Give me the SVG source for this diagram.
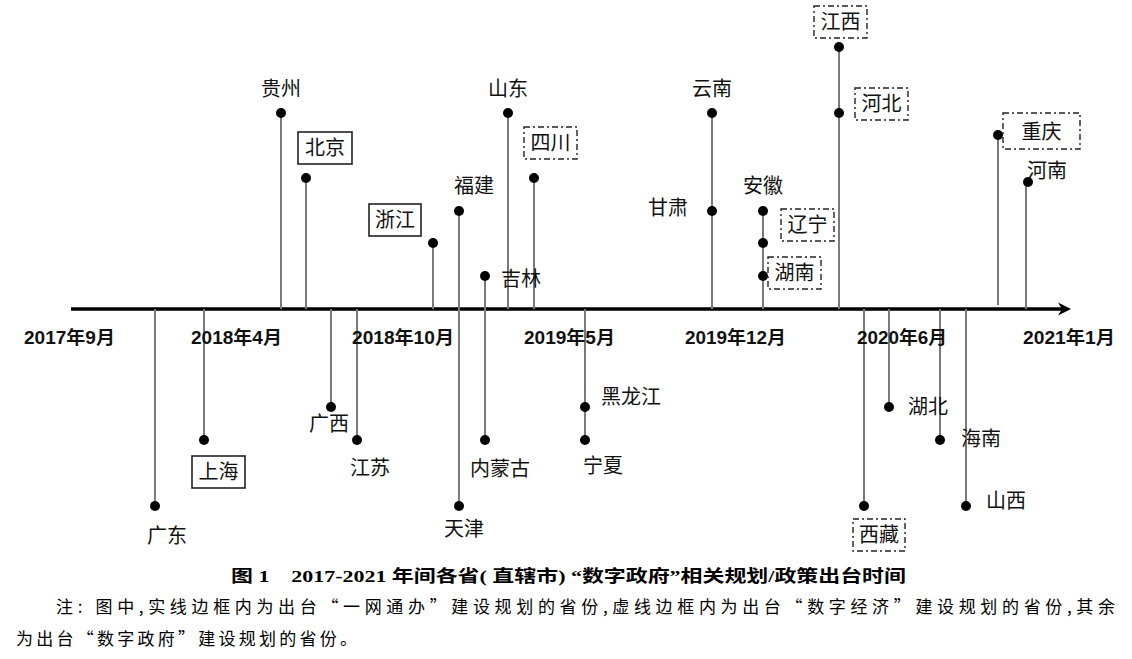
<svg xmlns="http://www.w3.org/2000/svg" width="1132" height="659" viewBox="0 0 1132 659">
<style>
.lbl{font-family:"Noto Sans CJK SC","Liberation Sans",sans-serif;font-size:20px;fill:#111}
.yr{font-family:"Liberation Sans","Noto Sans CJK SC",sans-serif;font-size:18px;font-weight:bold;fill:#111}
.stem{stroke:#7a7a7a;stroke-width:2;fill:none}
.solid{fill:#fff;stroke:#222;stroke-width:1.6}
.dash{fill:#fff;stroke:#222;stroke-width:1.4;stroke-dasharray:6 3 2 3}
.cap{font-family:"Liberation Serif","Noto Sans CJK SC",serif;font-size:17px;font-weight:bold;fill:#000}
.note{font-family:"Noto Sans CJK SC","Liberation Serif",sans-serif;font-size:17px;fill:#000}
</style>
<defs>
<circle id="dot" r="5" fill="#000"/>
</defs>
<rect width="1132" height="659" fill="#fff"/>
<g id="connectors">
<line x1="71" y1="309" x2="1064" y2="309" stroke="#000" stroke-width="3.5"/>
<path d="M1071,309 L1058,302.5 L1062,309 L1058,315.5 Z" fill="#000"/>
<!-- above -->
<line class="stem" x1="281" y1="113" x2="281" y2="309"/>
<line class="stem" x1="306" y1="178" x2="306" y2="309"/>
<line class="stem" x1="433" y1="243" x2="433" y2="309"/>
<line class="stem" x1="459" y1="211" x2="459" y2="506"/>
<line class="stem" x1="485" y1="276" x2="485" y2="440"/>
<line class="stem" x1="508" y1="113" x2="508" y2="309"/>
<line class="stem" x1="534" y1="178" x2="534" y2="309"/>
<line class="stem" x1="712" y1="113" x2="712" y2="309"/>
<line class="stem" x1="763" y1="211" x2="763" y2="309"/>
<line class="stem" x1="839" y1="47" x2="839" y2="309"/>
<line class="stem" x1="998" y1="135" x2="998" y2="305"/>
<line class="stem" x1="1026" y1="182" x2="1026" y2="309"/>
<!-- below -->
<line class="stem" x1="155" y1="309" x2="155" y2="506"/>
<line class="stem" x1="204" y1="309" x2="204" y2="440"/>
<line class="stem" x1="331" y1="309" x2="331" y2="407"/>
<line class="stem" x1="357" y1="309" x2="357" y2="440"/>
<line class="stem" x1="585" y1="309" x2="585" y2="440"/>
<line class="stem" x1="864" y1="309" x2="864" y2="506"/>
<line class="stem" x1="889" y1="309" x2="889" y2="407"/>
<line class="stem" x1="940" y1="309" x2="940" y2="440"/>
<line class="stem" x1="966" y1="309" x2="966" y2="506"/>
</g>
<g id="years">
<text class="yr" x="24" y="344" textLength="91" lengthAdjust="spacingAndGlyphs">2017年9月</text>
<text class="yr" x="191" y="344" textLength="91" lengthAdjust="spacingAndGlyphs">2018年4月</text>
<text class="yr" x="352" y="344" textLength="102" lengthAdjust="spacingAndGlyphs">2018年10月</text>
<text class="yr" x="524" y="344" textLength="91" lengthAdjust="spacingAndGlyphs">2019年5月</text>
<text class="yr" x="685" y="344" textLength="101" lengthAdjust="spacingAndGlyphs">2019年12月</text>
<text class="yr" x="857" y="344" textLength="90" lengthAdjust="spacingAndGlyphs">2020年6月</text>
<text class="yr" x="1023" y="344" textLength="92" lengthAdjust="spacingAndGlyphs">2021年1月</text>
</g>
<g id="guizhou"><use href="#dot" x="281" y="113"/><text class="lbl" x="281" y="96" text-anchor="middle">贵州</text></g>
<g id="beijing"><use href="#dot" x="306" y="178"/><rect class="solid" x="298" y="132" width="54" height="32"/><text class="lbl" x="325" y="155" text-anchor="middle">北京</text></g>
<g id="zhejiang"><use href="#dot" x="433" y="243"/><rect class="solid" x="369" y="204" width="52" height="32"/><text class="lbl" x="395" y="227" text-anchor="middle">浙江</text></g>
<g id="fujian"><use href="#dot" x="459" y="211"/><text class="lbl" x="474" y="193" text-anchor="middle">福建</text></g>
<g id="jilin"><use href="#dot" x="485" y="276"/><text class="lbl" x="501" y="286">吉林</text></g>
<g id="shandong"><use href="#dot" x="508" y="113"/><text class="lbl" x="508" y="96" text-anchor="middle">山东</text></g>
<g id="sichuan"><use href="#dot" x="534" y="178"/><rect class="dash" x="524" y="127" width="53" height="32"/><text class="lbl" x="550.5" y="150" text-anchor="middle">四川</text></g>
<g id="yunnan"><use href="#dot" x="712" y="113"/><text class="lbl" x="712" y="96" text-anchor="middle">云南</text></g>
<g id="gansu"><use href="#dot" x="712" y="211"/><text class="lbl" x="648" y="215">甘肃</text></g>
<g id="anhui"><use href="#dot" x="763" y="211"/><text class="lbl" x="763" y="193" text-anchor="middle">安徽</text></g>
<g id="liaoning"><use href="#dot" x="763" y="243"/><rect class="dash" x="781" y="209" width="53" height="32"/><text class="lbl" x="807.5" y="232" text-anchor="middle">辽宁</text></g>
<g id="hunan"><use href="#dot" x="763" y="276"/><rect class="dash" x="768" y="257" width="53" height="32"/><text class="lbl" x="794.5" y="280" text-anchor="middle">湖南</text></g>
<g id="jiangxi"><use href="#dot" x="839" y="47"/><rect class="dash" x="814" y="6" width="53" height="32"/><text class="lbl" x="840.5" y="29" text-anchor="middle">江西</text></g>
<g id="hebei"><use href="#dot" x="839" y="113"/><rect class="dash" x="855" y="88" width="53" height="32"/><text class="lbl" x="881.5" y="111" text-anchor="middle">河北</text></g>
<g id="chongqing"><use href="#dot" x="998" y="135"/><rect class="dash" x="1003" y="113" width="77" height="36"/><text class="lbl" x="1041.5" y="139" text-anchor="middle">重庆</text></g>
<g id="henan"><use href="#dot" x="1028" y="182"/><text class="lbl" x="1027" y="178">河南</text></g>
<g id="guangdong"><use href="#dot" x="155" y="506"/><text class="lbl" x="167" y="543" text-anchor="middle">广东</text></g>
<g id="shanghai"><use href="#dot" x="204" y="440"/><rect class="solid" x="192" y="456" width="53" height="32"/><text class="lbl" x="218.5" y="479" text-anchor="middle">上海</text></g>
<g id="guangxi"><use href="#dot" x="331" y="407"/><text class="lbl" x="329" y="431" text-anchor="middle">广西</text></g>
<g id="jiangsu"><use href="#dot" x="357" y="440"/><text class="lbl" x="370" y="475" text-anchor="middle">江苏</text></g>
<g id="tianjin"><use href="#dot" x="459" y="506"/><text class="lbl" x="464" y="536" text-anchor="middle">天津</text></g>
<g id="neimenggu"><use href="#dot" x="485" y="440"/><text class="lbl" x="500" y="476" text-anchor="middle">内蒙古</text></g>
<g id="heilongjiang"><use href="#dot" x="585" y="407"/><text class="lbl" x="601" y="404">黑龙江</text></g>
<g id="ningxia"><use href="#dot" x="585" y="440"/><text class="lbl" x="583" y="473">宁夏</text></g>
<g id="xizang"><use href="#dot" x="864" y="506"/><rect class="dash" x="853" y="519" width="52" height="32"/><text class="lbl" x="879" y="542" text-anchor="middle">西藏</text></g>
<g id="hubei"><use href="#dot" x="889" y="407"/><text class="lbl" x="908" y="414">湖北</text></g>
<g id="hainan"><use href="#dot" x="940" y="440"/><text class="lbl" x="961" y="446">海南</text></g>
<g id="shanxi"><use href="#dot" x="966" y="506"/><text class="lbl" x="986" y="508">山西</text></g>
<g id="caption">
<text class="cap" x="231" y="582" textLength="675" lengthAdjust="spacingAndGlyphs">图 1　2017-2021 年间各省( 直辖市) “数字政府”相关规划/政策出台时间</text>
<text class="note" x="56" y="613" textLength="1059" lengthAdjust="spacing">注: 图中,实线边框内为出台“一网通办”建设规划的省份,虚线边框内为出台“数字经济”建设规划的省份,其余</text>
<text class="note" x="16" y="645" textLength="341" lengthAdjust="spacing">为出台“数字政府”建设规划的省份。</text>
</g>
</svg>
